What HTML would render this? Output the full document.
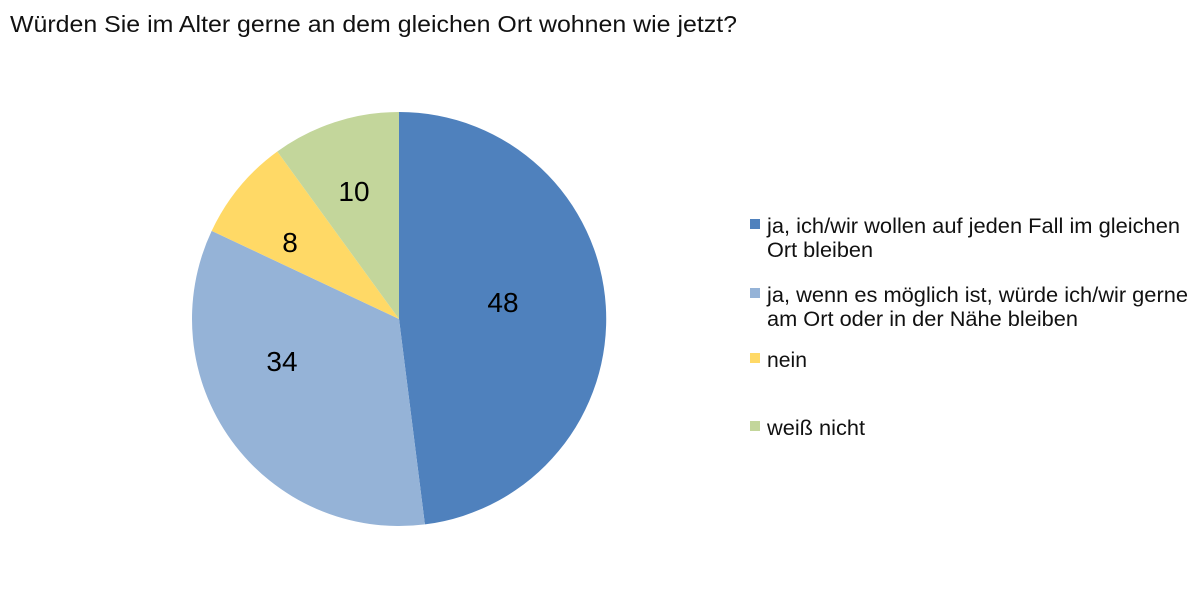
<!DOCTYPE html>
<html><head><meta charset="utf-8"><style>
body{margin:0;width:1200px;height:610px;background:#fff;font-family:"Liberation Sans",sans-serif;overflow:hidden}
</style></head><body>
<svg width="1200" height="610" xmlns="http://www.w3.org/2000/svg" font-family="Liberation Sans, sans-serif">
<text x="10" y="32" font-size="23" fill="#111" textLength="727" lengthAdjust="spacingAndGlyphs">Würden Sie im Alter gerne an dem gleichen Ort wohnen wie jetzt?</text>
<g>
<path d="M399,319 L399,112 A207,207 0 0 1 424.9,524.4 Z" fill="#4F81BD"/>
<path d="M399,319 L424.9,524.4 A207,207 0 0 1 211.7,230.9 Z" fill="#95B3D7"/>
<path d="M399,319 L211.7,230.9 A207,207 0 0 1 277.3,151.5 Z" fill="#FFD966"/>
<path d="M399,319 L277.3,151.5 A207,207 0 0 1 399,112 Z" fill="#C3D69B"/>
</g>
<g font-size="28" fill="#000" text-anchor="middle">
<text x="503" y="312">48</text>
<text x="282" y="371">34</text>
<text x="290" y="252">8</text>
<text x="354" y="201">10</text>
</g>
<g font-size="21" fill="#111" lengthAdjust="spacingAndGlyphs">
<rect x="750" y="219" width="10" height="10" fill="#4F81BD"/>
<text x="767" y="233" textLength="413" lengthAdjust="spacingAndGlyphs">ja, ich/wir wollen auf jeden Fall im gleichen</text>
<text x="767" y="257" textLength="106" lengthAdjust="spacingAndGlyphs">Ort bleiben</text>
<rect x="750" y="288" width="10" height="10" fill="#95B3D7"/>
<text x="767" y="302" textLength="421" lengthAdjust="spacingAndGlyphs">ja, wenn es möglich ist, würde ich/wir gerne</text>
<text x="767" y="326" textLength="311" lengthAdjust="spacingAndGlyphs">am Ort oder in der Nähe bleiben</text>
<rect x="750" y="353" width="10" height="10" fill="#FFD966"/>
<text x="767" y="367" textLength="40" lengthAdjust="spacingAndGlyphs">nein</text>
<rect x="750" y="421" width="10" height="10" fill="#C3D69B"/>
<text x="767" y="435" textLength="98" lengthAdjust="spacingAndGlyphs">weiß nicht</text>
</g>
</svg>
</body></html>
